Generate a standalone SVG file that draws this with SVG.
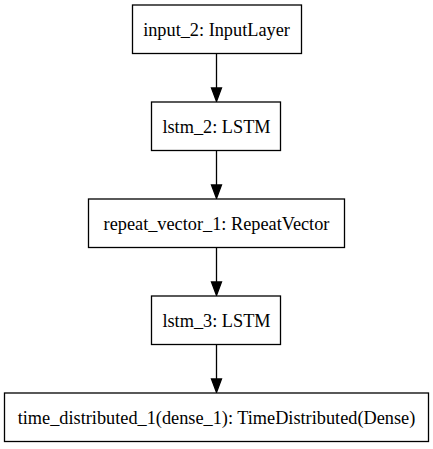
<svg xmlns="http://www.w3.org/2000/svg" width="433" height="449" viewBox="0 0 433 449">
<style>
.n rect{fill:#fff;stroke:#000;stroke-width:1.3}
.n text{font-family:'Liberation Serif','Times New Roman',serif;font-size:18.3px;text-anchor:middle;fill:#000}
.e line{stroke:#000;stroke-width:1.3}
.e polygon{fill:#000;stroke:#000;stroke-width:1.3}
</style>
<rect width="433" height="449" fill="#fff"/>
<g class="e">
<line x1="216.5" y1="53.5" x2="216.5" y2="89"/><polygon points="211.5,88 216.5,101.5 221.5,88"/>
<line x1="216.5" y1="150.5" x2="216.5" y2="186"/><polygon points="211.5,185 216.5,198.5 221.5,185"/>
<line x1="216.5" y1="247.5" x2="216.5" y2="283"/><polygon points="211.5,282 216.5,295.5 221.5,282"/>
<line x1="216.5" y1="344.5" x2="216.5" y2="380"/><polygon points="211.5,379 216.5,392.5 221.5,379"/>
</g>
<g id="input_2" class="n"><rect x="132.5" y="5" width="169" height="48.5"/><text x="216.5" y="35.5">input_2: InputLayer</text></g>
<g id="lstm_2" class="n"><rect x="151.5" y="102" width="129" height="48.5"/><text x="216.5" y="132.5">lstm_2: LSTM</text></g>
<g id="repeat_vector_1" class="n"><rect x="88.5" y="199" width="256" height="48.5"/><text x="216.5" y="229.5">repeat_vector_1: RepeatVector</text></g>
<g id="lstm_3" class="n"><rect x="151.5" y="296" width="129" height="48.5"/><text x="216.5" y="326.5">lstm_3: LSTM</text></g>
<g id="time_distributed_1" class="n"><rect x="4.5" y="393" width="424" height="48.5"/><text x="216.5" y="423.5">time_distributed_1(dense_1): TimeDistributed(Dense)</text></g>
</svg>
